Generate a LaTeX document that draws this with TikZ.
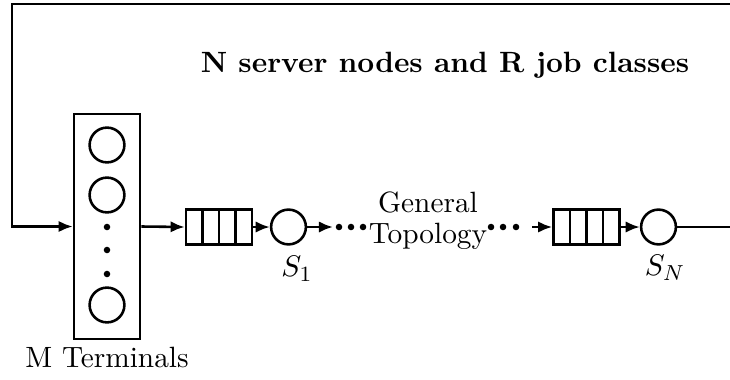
\documentclass[tikz,border=0pt]{standalone}
\usetikzlibrary{arrows.meta,calc}
\begin{document}
\begin{tikzpicture}[x=0.368pt,y=-0.368pt, line width=0.95pt,
  font=\fontsize{10.8pt}{13pt}\selectfont,
  arr/.style={-{Latex[length=5.2pt,width=4.2pt]}},
  srv/.style={circle,draw,minimum size=12.8pt,inner sep=0pt},
  queuebox/.style={draw,minimum width=24.3pt,minimum height=12.9pt,inner sep=0pt,
    path picture={\foreach \f in {0.25,0.5,0.75}
      \draw ($(path picture bounding box.north west)!\f!(path picture bounding box.north east)$) --
            ($(path picture bounding box.south west)!\f!(path picture bounding box.south east)$);}},
  dotn/.style={circle,fill,inner sep=0pt,minimum size=2.4pt},
  lbl/.style={inner sep=0pt}]
\useasboundingbox (0,0) rectangle (730,379);
% terminal box
\node[draw,minimum width=24.3pt,minimum height=82.8pt,inner sep=0pt] (tb) at (107,226.5) {};
\node[srv] (t1) at (107,145) {};
\node[srv] (t2) at (107,195) {};
\node[srv] (t3) at (107,305) {};
\node[dotn] (d1) at (107,227) {};
\node[dotn] (d2) at (107,250) {};
\node[dotn] (d3) at (107,274) {};
\node[lbl] (tl) at (107,357) {M Terminals};
% queues and servers
\node[queuebox] (q1) at (219,227) {};
\node[srv] (s1) at (288.5,227) {};
\node[lbl] (s1l) at (297,269) {$S_1$};
\coordinate (a1) at (333,227);
\node[dotn] (l1) at (339,227) {};
\node[dotn] (l2) at (351,227) {};
\node[dotn] (l3) at (363,227) {};
\node[lbl,anchor=base] (gen) at (428,212) {General};
\node[lbl,anchor=base] (topo) at (428,243) {Topology};
\node[dotn] (r1) at (491,227) {};
\node[dotn] (r2) at (503,227) {};
\node[dotn] (r3) at (516,227) {};
\coordinate (a2) at (532,227);
\node[queuebox] (q2) at (586.5,227) {};
\node[srv] (sn) at (658.5,227) {};
\node[lbl] (snl) at (665,268) {$S_N$};
% title
\node[lbl] (title) at (445,65) {\bfseries N server nodes and R job classes};
% loop coordinates
\coordinate (tr) at (731,4);
\coordinate (tlc) at (12,4);
\coordinate (rb) at (731,227);
% connectors
\draw[arr] (tr) -- (tlc) |- (tb.west);
\draw[arr] (tb.east) -- (q1.west);
\draw[arr] (q1.east) -- (s1.west);
\draw[arr] (s1.east) -- (a1);
\draw[arr] (a2) -- (q2.west);
\draw[arr] (q2.east) -- (sn.west);
\draw (sn.east) -- (rb);
\end{tikzpicture}
\end{document}
